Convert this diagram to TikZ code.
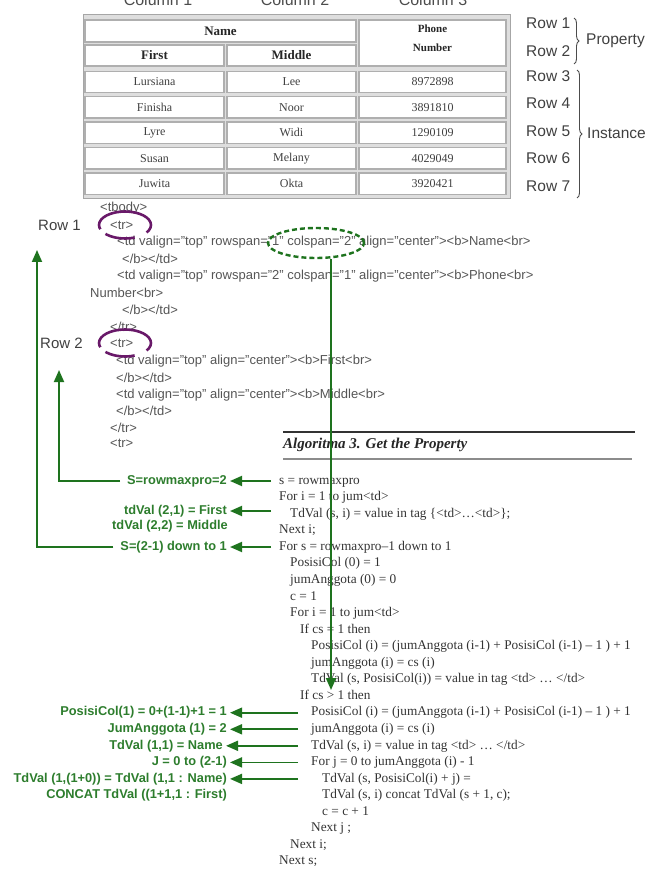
\documentclass[tikz,border=0pt]{standalone}
\usepackage{fontspec}
\setmainfont{Liberation Serif}
\setsansfont{Liberation Sans}
\usetikzlibrary{arrows.meta,shapes.geometric,decorations.pathreplacing}
\definecolor{gline}{RGB}{30,115,30}
\definecolor{gtext}{RGB}{45,125,45}
\definecolor{purp}{RGB}{105,25,105}
\definecolor{codegray}{RGB}{85,85,85}
\definecolor{cellline}{RGB}{175,175,175}
\definecolor{tablebg}{RGB}{222,222,222}
\begin{document}
\begin{tikzpicture}[x=1pt,y=-1pt,
  cell/.style={draw=cellline, line width=1.2pt, fill=white, inner sep=0pt},
  celltxt/.style={font=\fontsize{12}{14}\selectfont, text=black!75},
  hdrtxt/.style={font=\bfseries\fontsize{13}{15}\selectfont, text=black!85},
  phonetxt/.style={font=\bfseries\fontsize{11}{12}\selectfont, text=black!85, inner sep=0pt},
  coltxt/.style={font=\sffamily\fontsize{16}{18}\selectfont, text=black!70, anchor=base, inner sep=0pt},
  rowlbl/.style={font=\sffamily\fontsize{15.5}{18}\selectfont, text=black!75, anchor=west, inner sep=0pt},
  brc/.style={decorate, decoration={brace, amplitude=5pt}, draw=black!70, line width=0.9pt},
  code/.style={font=\sffamily\fontsize{13}{15}\selectfont, text=codegray, anchor=west, inner sep=0pt},
  hlbl/.style={font=\sffamily\fontsize{15}{18}\selectfont, text=black!75, anchor=west, inner sep=0pt},
  alg/.style={font=\fontsize{13.3}{15}\selectfont, text=black!80, anchor=west, inner sep=0pt, text height=9pt, text depth=2.5pt},
  glbl/.style={font=\sffamily\bfseries\fontsize{12.8}{15}\selectfont, text=gtext, anchor=east, inner sep=0pt, text height=9pt, text depth=2.5pt},
  garrow/.style={draw=gline, line width=1.8pt, -{Triangle[length=12pt,width=10pt]}},
  pell/.style={ellipse, draw=purp, line width=2.6pt, minimum width=52pt, minimum height=27pt, inner sep=0pt, dash pattern=on 68pt off 7pt on 30pt off 13pt on 10pt},
  gell/.style={ellipse, draw=gline, line width=2.4pt, minimum width=96pt, minimum height=30pt, inner sep=0pt, dash pattern=on 5pt off 3pt}
]
\useasboundingbox (0,0) rectangle (648,874);
\clip (0,0) rectangle (648,874);

% ---- column headers (cut off at top)
\node[coltxt] (col1) at (158,6) {Column 1};
\node[coltxt] (col2) at (295,6) {Column 2};
\node[coltxt] (col3) at (433,6) {Column 3};

% ---- table
\draw[fill=tablebg, draw=black!35, line width=0.8pt] (83,14) rectangle (510,198);
\node[cell, hdrtxt, minimum width=271pt, minimum height=22pt] (tName) at (220.5,31) {Name};
\node[cell, minimum width=147pt, minimum height=46pt] (tPhone) at (432.5,43) {};
\node[phonetxt] (tPhone1) at (432.5,29) {Phone};
\node[phonetxt] (tPhone2) at (432.5,48) {Number};
\node[cell, hdrtxt, minimum width=139pt, minimum height=21pt] (tFirst) at (154.5,55.5) {First};
\node[cell, hdrtxt, minimum width=129pt, minimum height=21pt] (tMiddle) at (291.5,55.5) {Middle};

\node[cell, celltxt, minimum width=139pt, minimum height=21.5pt] (r3a) at (154.5,82) {Lursiana};
\node[cell, celltxt, minimum width=129pt, minimum height=21.5pt] (r3b) at (291.5,82) {Lee};
\node[cell, celltxt, minimum width=147pt, minimum height=21.5pt] (r3c) at (432.5,82) {8972898};
\node[cell, celltxt, minimum width=139pt, minimum height=21.5pt] (r4a) at (154.5,107.25) {Finisha};
\node[cell, celltxt, minimum width=129pt, minimum height=21.5pt] (r4b) at (291.5,107.25) {Noor};
\node[cell, celltxt, minimum width=147pt, minimum height=21.5pt] (r4c) at (432.5,107.25) {3891810};
\node[cell, celltxt, minimum width=139pt, minimum height=21.5pt] (r5a) at (154.5,132.75) {Lyre};
\node[cell, celltxt, minimum width=129pt, minimum height=21.5pt] (r5b) at (291.5,132.75) {Widi};
\node[cell, celltxt, minimum width=147pt, minimum height=21.5pt] (r5c) at (432.5,132.75) {1290109};
\node[cell, celltxt, minimum width=139pt, minimum height=21.5pt] (r6a) at (154.5,158.25) {Susan};
\node[cell, celltxt, minimum width=129pt, minimum height=21.5pt] (r6b) at (291.5,158.25) {Melany};
\node[cell, celltxt, minimum width=147pt, minimum height=21.5pt] (r6c) at (432.5,158.25) {4029049};
\node[cell, celltxt, minimum width=139pt, minimum height=21.5pt] (r7a) at (154.5,183.75) {Juwita};
\node[cell, celltxt, minimum width=129pt, minimum height=21.5pt] (r7b) at (291.5,183.75) {Okta};
\node[cell, celltxt, minimum width=147pt, minimum height=21.5pt] (r7c) at (432.5,183.75) {3920421};

% ---- row labels and braces
\node[rowlbl] (row1) at (526,23) {Row 1};
\node[rowlbl] (row2) at (526,51) {Row 2};
\node[rowlbl] (row3) at (526,76) {Row 3};
\node[rowlbl] (row4) at (526,103) {Row 4};
\node[rowlbl] (row5) at (526,131) {Row 5};
\node[rowlbl] (row6) at (526,158) {Row 6};
\node[rowlbl] (row7) at (526,186) {Row 7};
\draw[brc] (574,18) -- (574,64);
\draw[brc] (577,70) -- (577,198);
\node[rowlbl] (prop) at (586,41) {Property};
\node[rowlbl] (inst) at (587,133) {Instance};

% ---- HTML code
\node[code] (h1) at (100,208) {<tbody>};
\node[code] (h2) at (110,225) {<tr>};
\node[code] (h3) at (117,242) {<td valign="top" rowspan="1" colspan="2" align="center"><b>Name<br>};
\node[code] (h4) at (122,259) {</b></td>};
\node[code] (h5) at (117,276) {<td valign="top" rowspan="2" colspan="1" align="center"><b>Phone<br>};
\node[code] (h6) at (90,293) {Number<br>};
\node[code] (h7) at (122,310) {</b></td>};
\node[code] (h8) at (110,327) {</tr>};
\node[code] (h9) at (110,343) {<tr>};
\node[code] (h10) at (116,361) {<td valign="top" align="center"><b>First<br>};
\node[code] (h11) at (116,378) {</b></td>};
\node[code] (h12) at (116,395) {<td valign="top" align="center"><b>Middle<br>};
\node[code] (h13) at (116,411) {</b></td>};
\node[code] (h14) at (110,428) {</tr>};
\node[code] (h15) at (110,443) {<tr>};
\node[hlbl] (hrow1) at (38,225) {Row 1};
\node[hlbl] (hrow2) at (40,343) {Row 2};

\node[pell] (pe1) at (125,225) {};
\node[pell] (pe2) at (125,343) {};
\node[gell] (ge) at (316,243) {};

% ---- algorithm
\draw[line width=1.6pt, black!80] (283,432) -- (635,432);
\draw[line width=1.2pt, black!45] (283,459) -- (632,459);
\node[font=\bfseries\itshape\fontsize{15}{17}\selectfont, text=black!85, anchor=west, inner sep=0pt] (title) at (283,445) {Algoritma 3. Get the Property};

\node[alg] (a0) at (279,481) {s = rowmaxpro};
\node[alg] (a1) at (279,497.5) {For i = 1 to jum<td>};
\node[alg] (a2) at (290,514) {TdVal (s, i) = value in tag \{<td>\ldots<td>\};};
\node[alg] (a3) at (279,530.5) {Next i;};
\node[alg] (a4) at (279,547) {For s = rowmaxpro--1 down to 1};
\node[alg] (a5) at (290,563.5) {PosisiCol (0) = 1};
\node[alg] (a6) at (290,580.3) {jumAnggota (0) = 0};
\node[alg] (a7) at (290,597) {c = 1};
\node[alg] (a8) at (290,613.4) {For i = 1 to jum<td>};
\node[alg] (a9) at (300,630) {If cs = 1 then};
\node[alg] (a10) at (311,646.5) {PosisiCol (i) = (jumAnggota (i-1) + PosisiCol (i-1) -- 1 ) + 1};
\node[alg] (a11) at (311,663) {jumAnggota (i) = cs (i)};
\node[alg] (a12) at (311,679.6) {TdVal (s, PosisiCol(i)) = value in tag <td> \ldots\ </td>};
\node[alg] (a13) at (300,696.2) {If cs > 1 then};
\node[alg] (a14) at (311,712.7) {PosisiCol (i) = (jumAnggota (i-1) + PosisiCol (i-1) -- 1 ) + 1};
\node[alg] (a15) at (311,729.3) {jumAnggota (i) = cs (i)};
\node[alg] (a16) at (311,745.8) {TdVal (s, i) = value in tag <td> \ldots\ </td>};
\node[alg] (a17) at (311,762.4) {For j = 0 to jumAnggota (i) - 1};
\node[alg] (a18) at (322,778.9) {TdVal (s, PosisiCol(i) + j) =};
\node[alg] (a19) at (322,795.5) {TdVal (s, i) concat TdVal (s + 1, c);};
\node[alg] (a20) at (322,812) {c = c + 1};
\node[alg] (a21) at (311,828.6) {Next j ;};
\node[alg] (a22) at (290,845.1) {Next i;};
\node[alg] (a23) at (279,861.7) {Next s;};

% ---- green labels
\node[glbl] (l0) at (227,481) {S=rowmaxpro=2};
\node[glbl] (l2) at (227,511) {tdVal (2,1) = First};
\node[glbl] (l2b) at (228,526) {tdVal (2,2) = Middle};
\node[glbl] (l4) at (227,547) {S=(2-1) down to 1};
\node[glbl] (l14) at (227,712.7) {PosisiCol(1) = 0+(1-1)+1 = 1};
\node[glbl] (l15) at (227,729.3) {JumAnggota (1) = 2};
\node[glbl] (l16) at (223,745.8) {TdVal (1,1) = Name};
\node[glbl] (l17) at (227,762.4) {J = 0 to (2-1)};
\node[glbl] (l18) at (227,778.9) {TdVal (1,(1+0)) = TdVal (1,1 : Name)};
\node[glbl] (l18b) at (227,795.5) {CONCAT TdVal ((1+1,1 : First)};

% ---- connectors
\coordinate (rxu) at (271,0);
\coordinate (rxl) at (298,0);
\coordinate (r1tip) at (37,250);
\coordinate (r2tip) at (59,370);
\coordinate (vtip) at (331,690);

\draw[garrow, shorten >=3pt] (a0.west -| rxu) -- (l0.east);
\draw[garrow, shorten >=3pt] (l2.east -| rxu) -- (l2.east);
\draw[garrow, shorten >=3pt] (a4.west -| rxu) -- (l4.east);
\draw[garrow, shorten >=3pt] (a14.west -| rxl) -- (l14.east);
\draw[garrow, shorten >=3pt] (a15.west -| rxl) -- (l15.east);
\draw[garrow, shorten >=3pt] (a16.west -| rxl) -- (l16.east);
\draw[garrow, shorten >=3pt] (a17.west -| rxl) -- (l17.east);
\draw[garrow, shorten >=3pt] (a18.west -| rxl) -- (l18.east);

\draw[garrow, shorten <=7pt] (l4.west) -| (r1tip);
\draw[garrow, shorten <=7pt] (l0.west) -| (r2tip);
\draw[garrow] (vtip |- ge.south) -- (vtip);
\end{tikzpicture}
\end{document}
